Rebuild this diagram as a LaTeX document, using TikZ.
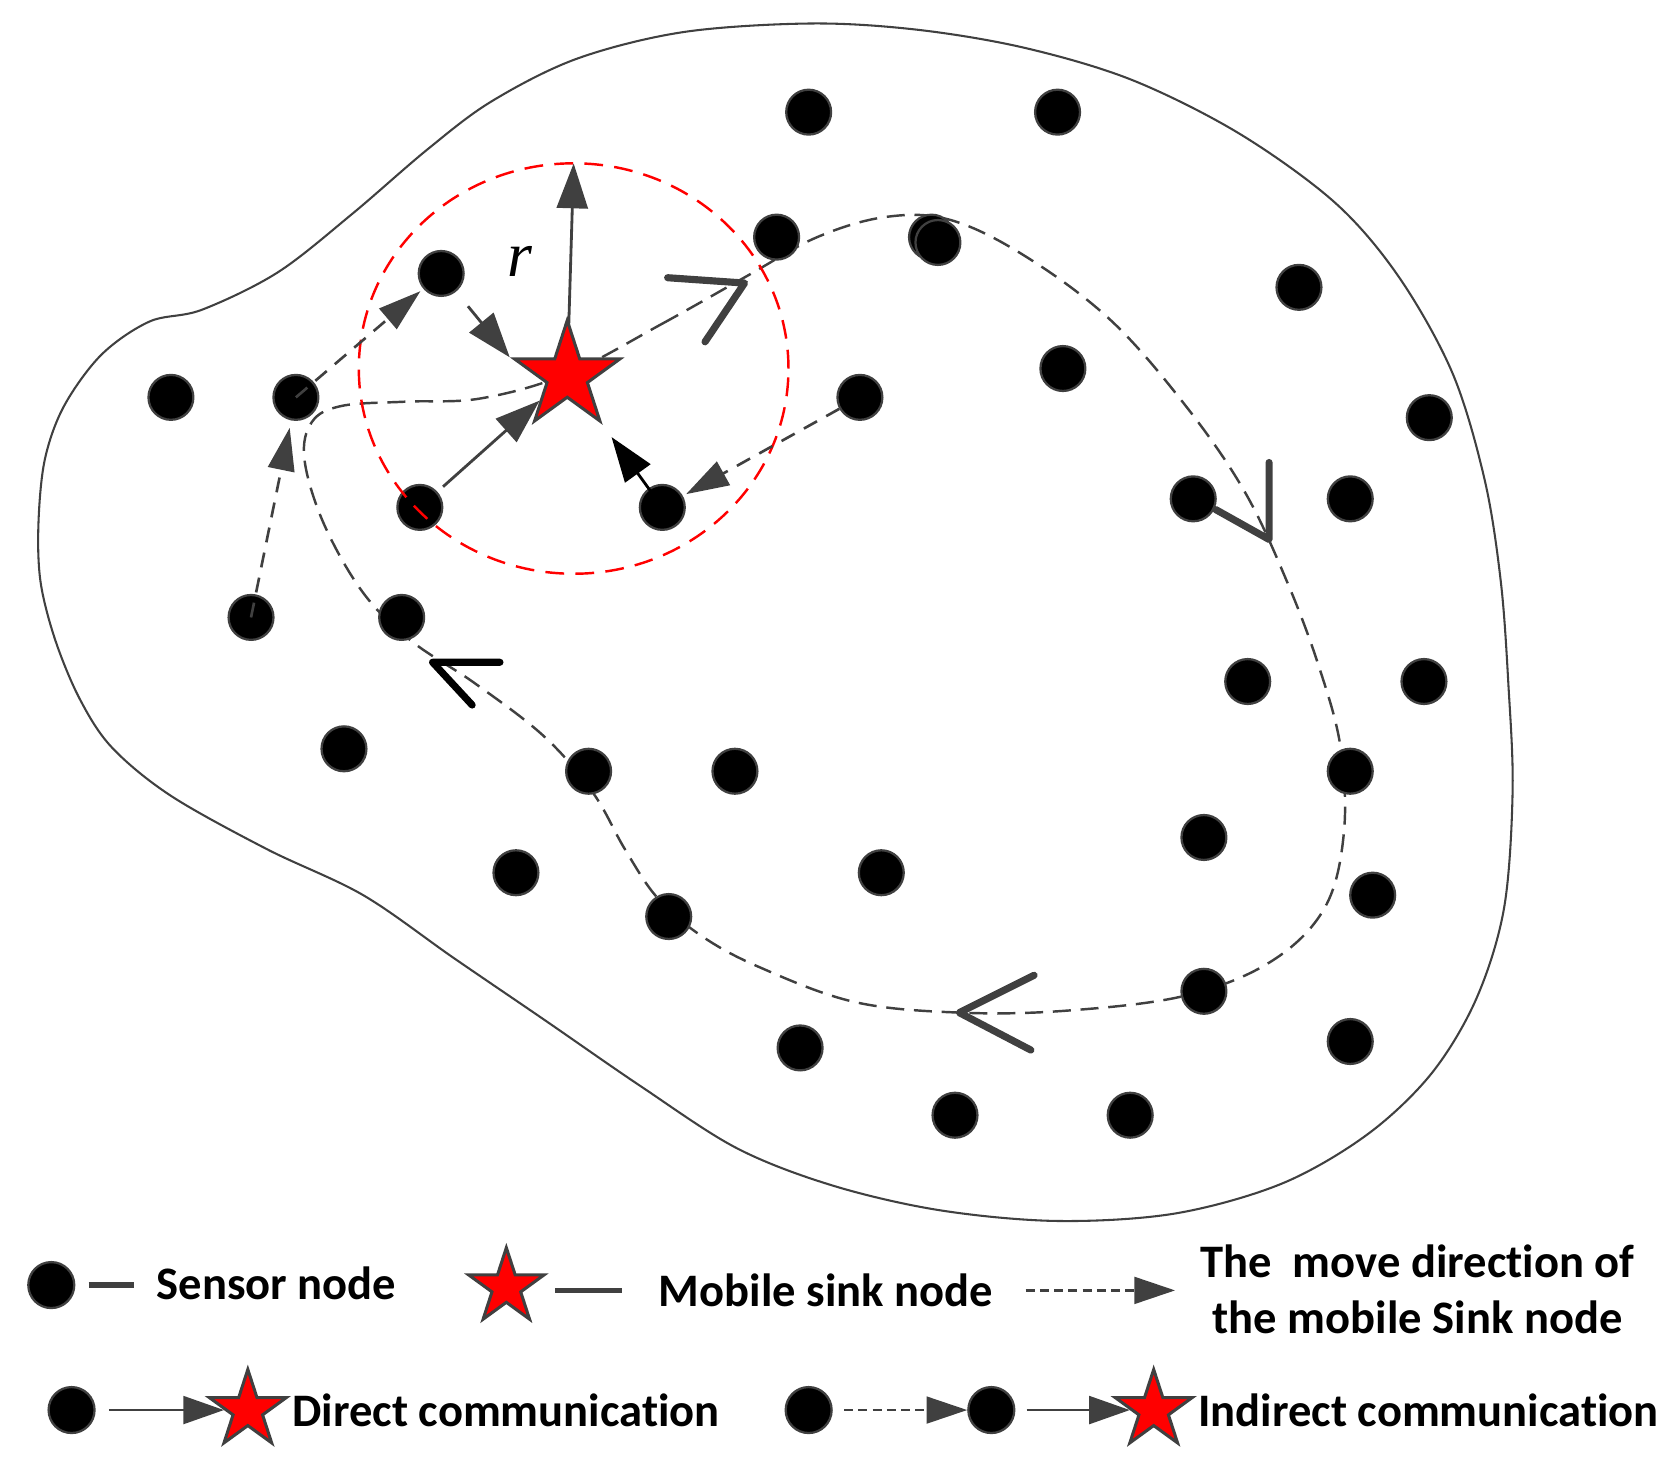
\documentclass[tikz,border=0pt]{standalone}
\usepackage{fontspec}
\setmainfont{Carlito}[Ligatures=NoCommon]
\newfontfamily\timesf{Liberation Serif}
\usetikzlibrary{shapes.geometric,arrows.meta,calc}
\definecolor{dgray}{HTML}{404040}
\pgfdeclarelayer{bg}
\pgfdeclarelayer{fg}
\pgfsetlayers{bg,main,fg}
\begin{document}
\begin{tikzpicture}[x=0.01cm,y=-0.01cm,
  sensor/.style={circle,fill=black,draw=dgray,line width=0.6pt,minimum size=0.42cm,inner sep=0pt},
  sink/.style={star,star points=5,star point ratio=2.618,fill=red,draw=dgray,line width=0.8pt,minimum size=1.04cm,inner sep=0pt},
  bnd/.style={draw=dgray,line width=0.55pt},
  mpath/.style={draw=dgray,line width=0.65pt,dash pattern=on 4.8pt off 2.6pt},
  rcirc/.style={draw=red,line width=0.65pt,dash pattern=on 5pt off 3pt},
  comm/.style={draw=dgray,line width=0.75pt,-{Triangle[length=0.42cm,width=0.29cm]},color=dgray},
  commd/.style={draw=dgray,line width=0.7pt,dash pattern=on 4pt off 2.8pt,-{Triangle[length=0.4cm,width=0.25cm]},color=dgray},
  chev/.style={draw=dgray,line width=1.9pt,line cap=round,line join=round},
  legtext/.style={font=\bfseries\fontsize{12.4}{14.8}\selectfont,inner sep=0pt,text=black},
  legline/.style={draw=dgray,line width=1.4pt},
  legarrow/.style={draw=dgray,line width=0.75pt,-{Triangle[length=0.38cm,width=0.26cm]},color=dgray},
  legdash/.style={draw=dgray,line width=0.7pt,dash pattern=on 2.4pt off 1.4pt,-{Triangle[length=0.38cm,width=0.25cm]},color=dgray}
]
\useasboundingbox (0,0) rectangle (1568,1368);

\begin{pgfonlayer}{bg}
\draw[bnd] plot[smooth cycle, tension=0.55] coordinates {
 (189,290) (260,255) (330,200) (400,140) (460,95) (540,55) (640,30) (760,22)
 (860,28) (960,45) (1060,75) (1160,125) (1250,190) (1310,260) (1360,350)
 (1390,450) (1405,545) (1412,640) (1416,740) (1408,850) (1382,935) (1340,1005)
 (1280,1062) (1200,1108) (1100,1136) (990,1143) (880,1133) (780,1110) (690,1075)
 (600,1017) (510,955) (425,897) (340,838) (250,795) (160,745) (105,700) (75,655)
 (52,600) (38,545) (36,490) (42,430) (60,380) (95,332) (140,301)};
\draw[mpath] plot[smooth cycle, tension=0.6] coordinates {
 (531,350) (620,303) (700,258) (765,222) (830,203) (890,206) (960,240) (1040,300)
 (1110,380) (1165,460) (1205,545) (1235,625) (1255,700) (1258,780) (1240,850)
 (1190,900) (1110,932) (1000,946) (900,948) (800,938) (710,905) (655,875)
 (615,840) (585,795) (555,742) (510,690) (445,640) (385,600) (340,555) (303,490)
 (285,430) (292,395) (320,380) (380,376) (450,373)};
\end{pgfonlayer}

% sensor nodes
\node[sensor] (n1) at (757,105) {};
\node[sensor] (n2) at (990,105) {};
\node[sensor] (n3) at (727,222) {};
\node[sensor] (n4a) at (872,222) {};
\node[sensor] (n4) at (878,227) {};
\node[sensor] (n5) at (413,256) {};
\node[sensor] (n6) at (1216,269) {};
\node[sensor] (n7) at (995,345) {};
\node[sensor] (n8) at (160,372) {};
\node[sensor] (n9) at (277,372) {};
\node[sensor] (n10) at (805,372) {};
\node[sensor] (n11) at (1338,391) {};
\node[sensor] (n12) at (1117,467) {};
\node[sensor] (n13) at (1264,467) {};
\node[sensor] (n14) at (393,475) {};
\node[sensor] (n15) at (620,475) {};
\node[sensor] (n16) at (235,578) {};
\node[sensor] (n17) at (376,578) {};
\node[sensor] (n18) at (1168,638) {};
\node[sensor] (n19) at (1333,638) {};
\node[sensor] (n20) at (322,701) {};
\node[sensor] (n21) at (551,722) {};
\node[sensor] (n22) at (688,722) {};
\node[sensor] (n23) at (1264,722) {};
\node[sensor] (n24) at (1127,784) {};
\node[sensor] (n25) at (483,817) {};
\node[sensor] (n26) at (825,817) {};
\node[sensor] (n27) at (1285,838) {};
\node[sensor] (n28) at (626,858) {};
\node[sensor] (n29) at (1127,928) {};
\node[sensor] (n30) at (749,981) {};
\node[sensor] (n31) at (1264,975) {};
\node[sensor] (n32) at (894,1044) {};
\node[sensor] (n33) at (1058,1044) {};

\begin{pgfonlayer}{fg}
\node[sink] (star) at (531,352) {};
\end{pgfonlayer}

% communication range
\coordinate (cc) at (537,345);
\draw[rcirc] (cc) ellipse [x radius=2.01cm, y radius=1.92cm];
\coordinate (rtip) at (537,153);
\draw[comm] (star.center) -- (rtip);
\node[font=\timesf\itshape\fontsize{17}{19}\selectfont,inner sep=0pt] (rlab) at (487,245) {r};

% direct communications
\draw[comm,shorten <=5pt] (n5) -- (star.outer point 2);
\draw[comm,shorten <=2pt] (n14) -- (star);
\draw[comm,draw=black,color=black,shorten >=4pt,shorten <=-2pt] (n15) -- (star.outer point 4);

% indirect communications
\draw[commd,shorten >=1pt] (n9.center) -- (n5);
\draw[commd,shorten >=1pt] (n10) -- (n15);
\draw[commd,shorten >=2pt] (n16.center) -- (n9);

% direction chevrons
\draw[chev] (625,260) -- (697,265) -- (660,320);
\draw[chev] (1188,433) -- (1188,505) -- (1138,477);
\draw[chev,draw=black] (468,620) -- (405,620) -- (442,660);
\draw[chev] (968,913) -- (898,948) -- (965,983);

% legend row 1
\node[sensor,minimum size=0.43cm] (ls1) at (48,1203) {};
\coordinate (l1a) at (83,1203); \coordinate (l1b) at (125,1203);
\draw[legline] (l1a) -- (l1b);
\node[legtext,anchor=west] (lt1) at (146,1201) {Sensor node};
\node[sink,minimum size=0.74cm] (lst1) at (474,1205) {};
\coordinate (l2a) at (520,1208); \coordinate (l2b) at (582,1208);
\draw[legline] (l2a) -- (l2b);
\node[legtext,anchor=west] (lt2) at (616,1208) {Mobile sink node};
\coordinate (l3a) at (960,1208); \coordinate (l3b) at (1100,1208);
\draw[legdash] (l3a) -- (l3b);
\node[legtext,align=center] (lt3) at (1327,1207) {The\ \ move direction of\\the mobile Sink node};

% legend row 2
\node[sensor,minimum size=0.43cm] (ls2) at (67,1320) {};
\node[sink,minimum size=0.76cm] (lst2) at (232,1320) {};
\draw[legarrow,shorten <=3.5pt] (ls2) -- (lst2);
\node[legtext,anchor=west] (lt4) at (273,1320) {Direct communication};
\node[sensor,minimum size=0.43cm] (ls3) at (757,1320) {};
\node[sensor,minimum size=0.43cm] (ls4) at (928,1320) {};
\node[sink,minimum size=0.76cm] (lst3) at (1080,1320) {};
\draw[legdash,shorten <=3pt] (ls3) -- (ls4);
\draw[legarrow,shorten <=3pt] (ls4) -- (lst3);
\node[legtext,anchor=west] (lt5) at (1121,1320) {Indirect communication};
\end{tikzpicture}
\end{document}
